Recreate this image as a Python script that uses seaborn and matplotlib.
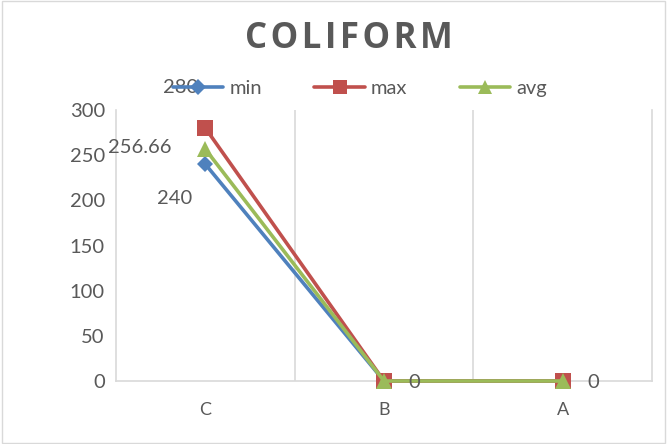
import pandas as pd
import matplotlib.pyplot as plt
import seaborn as sns

# Data
categories = ["C", "B", "A"]
min_vals = [240, 0, 0]
max_vals = [280, 0, 0]
avg_vals = [256.66, 0, 0]
series_names = ["min", "max", "avg"]

sns.set_style("white")
plt.rcParams['font.family'] = ['Lato', 'DejaVu Sans']

df = pd.DataFrame({"cat": categories, "min": min_vals, "max": max_vals, "avg": avg_vals})
long = df.melt(id_vars="cat", value_vars=series_names, var_name="series", value_name="value")
long["x"] = long["cat"].map({c: i for i, c in enumerate(categories)})

colors = {"min": "#4F81BD", "max": "#C0504D", "avg": "#9BBB59"}
markers = {"min": "D", "max": "s", "avg": "^"}
msizes = {"min": 8.5, "max": 11, "avg": 11}

fig = plt.figure(figsize=(6.67, 4.44), dpi=100)
ax = fig.add_axes([116 / 667, 1 - 381 / 444, (652 - 116) / 667, (381 - 110) / 444])

for s in series_names:
    sub = long[long["series"] == s]
    sns.lineplot(data=sub, x="x", y="value", ax=ax, color=colors[s], linewidth=2.6,
                 marker=markers[s], markersize=msizes[s], markeredgewidth=0,
                 label=s, zorder=3, clip_on=False)

# data labels (identical labels at the same spot are drawn once)
label_offsets = {"min": (-22, -25), "max": (-18, 29), "avg": (-47, 1)}
grey = "#595959"
seen = set()
for s, vals in zip(series_names, [min_vals, max_vals, avg_vals]):
    for i, v in enumerate(vals):
        off = label_offsets[s] if i == 0 else (22, -1)
        key = (i, v, off)
        if key in seen:
            continue
        seen.add(key)
        ax.annotate("{:g}".format(v), (i, v), textcoords="offset points", xytext=off,
                    ha="center", va="center", fontsize=14.5, color=grey)

ax.set_xlim(-0.5, 2.5)
ax.set_ylim(0, 300)
ax.set_yticks(range(0, 301, 50))
ax.set_xticks(range(len(categories)))
ax.set_xticklabels(categories)
ax.set_xticks([0.5, 1.5], minor=True)
ax.grid(False)
ax.grid(axis="x", which="minor", color="#D9D9D9", linewidth=1.2)
ax.set_axisbelow(True)
ax.tick_params(axis="y", labelsize=14.5, labelcolor=grey, length=0, pad=8)
ax.tick_params(axis="x", labelsize=13, labelcolor=grey, length=0, pad=15)
ax.tick_params(axis="x", which="minor", length=0)
ax.spines["top"].set_visible(False)
for side in ["left", "right", "bottom"]:
    ax.spines[side].set_color("#D9D9D9")
    ax.spines[side].set_linewidth(1.2)
ax.set_xlabel("")
ax.set_ylabel("")

ax.legend(loc="center", bbox_to_anchor=(0.455, 1.078), ncol=3, frameon=False,
          fontsize=14.5, labelcolor=grey, handlelength=2.5, columnspacing=2.6,
          handletextpad=0.3, markerscale=0.9)

title = "\u200a".join("COLIFORM")
fig.text(0.523, 1 - 39 / 444, title, ha="center", va="center", fontsize=25,
         fontweight="bold", color=grey, family=["Open Sans", "DejaVu Sans"])

# chart border
fig.patches.append(plt.Rectangle((0.003, 0.003), 0.994, 0.994, transform=fig.transFigure,
                                 fill=False, edgecolor="#D9D9D9", linewidth=1))

fig.savefig("out.png", dpi=100)
